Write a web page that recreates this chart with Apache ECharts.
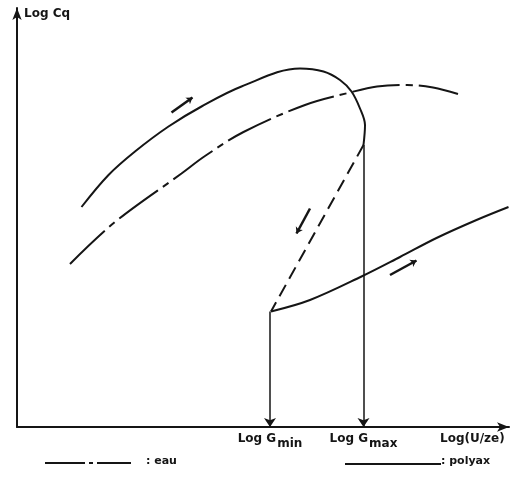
<!DOCTYPE html>
<html><head><meta charset="utf-8">
<script src="https://cdn.jsdelivr.net/npm/echarts@6/dist/echarts.min.js"></script>
<style>html,body{margin:0;padding:0;background:#fff}#c{width:515px;height:496px}</style>
</head><body><div id="c"></div>
<script>
// Abstract units (x: Log(U/ze), y: Log Cq)
var polyaxRise = [[12.9,44],[18.3,50.4],[23.6,55.1],[30.3,60.1],[36.9,64.1],[44.9,68.1],[56.6,71.7],[61.3,71.1],[64.6,69.4],[66.9,67.1],[68.6,63.7],[69.6,60.4],[69.3,56.4]];
var polyaxDrop = [[69.3,56.4],[50.8,23.1]];
var polyaxReturn = [[50.8,23.1],[58.6,25.4],[68.9,30.1],[76.6,34],[83.9,37.8],[91.9,41.4],[98.3,44]];
var eau = [[10.6,32.6],[19.6,41],[32.9,50.7],[37.6,54.2],[45.3,59],[57.6,64.4],[66.6,66.9],[72,68.1],[78,68.4],[83.2,67.9],[88.2,66.6]];
var gLines = [[[50.6,23.1],[50.6,0]],[[69.3,56.4],[69.3,0]]];
var dirArrows = [[[30.9,62.9],[35.1,65.9]],[[58.6,43.7],[55.9,38.7]],[[74.6,30.4],[79.9,33.3]]];
var tickValues = [50.6, 69.3];
var tickLabels = [['Log G','min'],['Log G','max']];
var legendNames = [': eau', ': polyax'];
var xName = 'Log(U/ze)';
var yName = 'Log Cq';

var ink = '#151515';
var font = 'DejaVu Sans';
var chart = echarts.init(document.getElementById('c'));
chart.setOption({
  backgroundColor:'#fff',
  animation:false,
  grid:{left:17, top:8, width:492, height:419},
  xAxis:{type:'value', min:0, max:98.4,
    axisLine:{lineStyle:{color:ink,width:2}, symbol:['none','arrow'], symbolSize:[7,12]},
    axisTick:{show:false}, splitLine:{show:false},
    axisLabel:{customValues:tickValues, margin:6, color:ink,
      formatter:function(v){var i=tickValues.indexOf(v);return i<0?'':'{a|'+tickLabels[i][0]+'}{b|'+tickLabels[i][1]+'}';},
      rich:{a:{fontFamily:font,fontSize:12,fontWeight:'bold',color:ink,verticalAlign:'top',lineHeight:16},
            b:{fontFamily:font,fontSize:12,fontWeight:'bold',color:ink,verticalAlign:'top',lineHeight:16,padding:[5,0,0,1]}}}
  },
  yAxis:{type:'value', min:0, max:83.8,
    axisLine:{lineStyle:{color:ink,width:2}, symbol:['none','arrow'], symbolSize:[7,12]},
    axisTick:{show:false}, splitLine:{show:false}, axisLabel:{show:false}},
  graphic:[
    {type:'text', left:24, top:8, style:{text:yName, fontFamily:font, fontSize:12, fontWeight:'bold', fill:ink}},
    {type:'text', left:440, top:433, style:{text:xName, fontFamily:font, fontSize:12, fontWeight:'bold', fill:ink}},
    {type:'line', shape:{x1:45,y1:463,x2:131,y2:463}, style:{stroke:ink,lineWidth:2,lineDash:[40,4,4,4]}},
    {type:'text', left:146, top:456, style:{text:legendNames[0], fontFamily:font, fontSize:11, fontWeight:'bold', fill:ink}},
    {type:'line', shape:{x1:345,y1:464,x2:441,y2:464}, style:{stroke:ink,lineWidth:2}},
    {type:'text', left:441, top:456, style:{text:legendNames[1], fontFamily:font, fontSize:11, fontWeight:'bold', fill:ink}}
  ],
  series:[
    {name:'polyax', type:'line', data:polyaxRise, smooth:0.35, symbol:'none', lineStyle:{color:ink,width:2}},
    {name:'polyaxDrop', type:'line', data:polyaxDrop, symbol:'none', lineStyle:{color:ink,width:2,type:[13,7]}},
    {name:'polyaxReturn', type:'line', data:polyaxReturn, smooth:0.35, symbol:'none', lineStyle:{color:ink,width:2}},
    {name:'eau', type:'line', data:eau, smooth:0.35, symbol:'none', lineStyle:{color:ink,width:2,type:[48,6,7,6]}},
    {name:'G', type:'lines', coordinateSystem:'cartesian2d', symbol:['none','arrow'], symbolSize:9,
     lineStyle:{color:ink,width:1.5,opacity:1}, data:gLines.map(function(c){return {coords:c};})},
    {name:'dir', type:'lines', coordinateSystem:'cartesian2d', symbol:['none','arrow'], symbolSize:6,
     lineStyle:{color:ink,width:2.5,opacity:1}, data:dirArrows.map(function(c){return {coords:c};})}
  ]
});
</script></body></html>
